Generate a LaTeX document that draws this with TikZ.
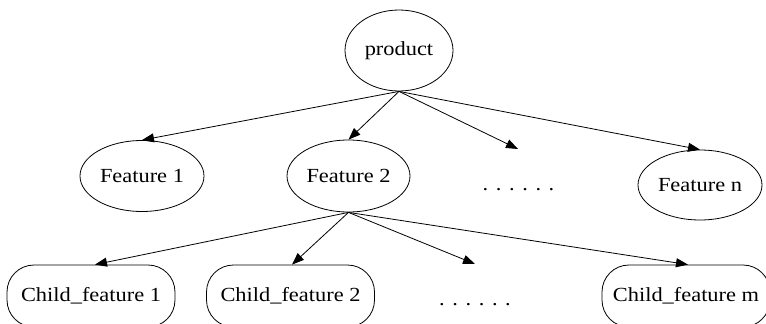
\documentclass[tikz,border=0pt]{standalone}
\usepackage{fontspec}
\setmainfont{Liberation Serif}[FakeStretch=1.12]
\usetikzlibrary{shapes.geometric,arrows.meta}
\begin{document}
\begin{tikzpicture}[x=1pt,y=-1pt,
  every node/.style={font=\fontsize{20}{24}\selectfont, inner sep=0pt},
  ell/.style={draw, ellipse, line width=0.8pt},
  child/.style={draw, rectangle, rounded corners=27pt, line width=0.8pt, minimum width=168pt, minimum height=62pt},
  arr/.style={line width=0.8pt, -{Triangle[length=12pt,width=9pt]}, shorten >=0pt}
]
\useasboundingbox (0,0) rectangle (766,324);
\clip (0,0) rectangle (766,324);
\node[ell, minimum width=108pt, minimum height=81pt] (prod) at (399,50.5) {product};
\node[ell, minimum width=124pt, minimum height=71pt] (f1) at (142,176) {Feature 1};
\node[ell, minimum width=123pt, minimum height=72pt] (f2) at (348.5,176) {Feature 2};
\node[ell, minimum width=124pt, minimum height=70pt] (fn) at (700,185) {Feature n};
\node (d1) at (518.5,190) {.\hspace{7.6pt}.\hspace{7.6pt}.\hspace{7.6pt}.\hspace{7.6pt}.\hspace{7.6pt}.};
\coordinate (t1) at (518,149);
\node[child] (c1) at (91,296) {Child\_feature 1};
\node[child] (c2) at (290.5,296) {Child\_feature 2};
\node[child] (cm) at (686,296) {Child\_feature m};
\node (d2) at (475,305) {.\hspace{7.6pt}.\hspace{7.6pt}.\hspace{7.6pt}.\hspace{7.6pt}.\hspace{7.6pt}.};
\coordinate (t2) at (475,264);
\draw[arr] (prod.south) -- (f1.north);
\draw[arr] (prod.south) -- (f2.north);
\draw[arr] (prod.south) -- (t1);
\draw[arr] (prod.south) -- (fn.north);
\draw[arr] (f2.south) -- ([xshift=4pt]c1.north);
\draw[arr] (f2.south) -- ([xshift=1.5pt]c2.north);
\draw[arr] (f2.south) -- (t2);
\draw[arr] (f2.south) -- ([xshift=2pt]cm.north);
\end{tikzpicture}
\end{document}
